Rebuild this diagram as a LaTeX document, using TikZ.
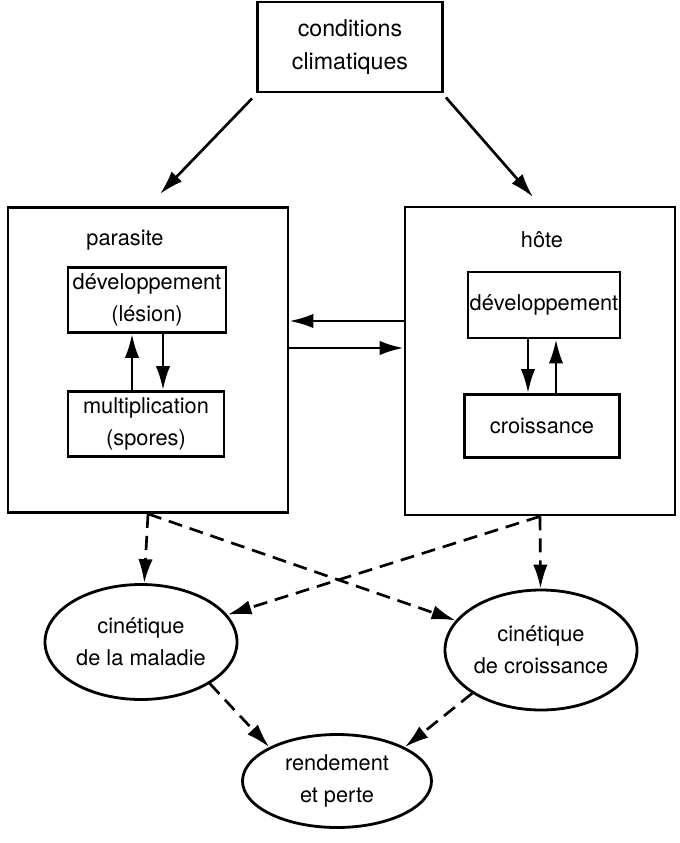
\documentclass[tikz,border=0pt]{standalone}
\usepackage{fontspec}
\setmainfont{TeX Gyre Heros}
\usetikzlibrary{shapes, arrows.meta, positioning}

\begin{document}
\begin{tikzpicture}[
          font=\fontsize{15.5}{23}\selectfont,
          box/.style={rectangle, draw, line width=2pt, inner sep=1pt, align=center},
          oval/.style={ellipse, draw, line width=2pt, inner sep=0pt, align=center},
          arrow/.style={-{Latex[length=6mm,width=3.6mm]}, line width=1.9pt},
          dasharrow/.style={arrow, dash pattern=on 3.5mm off 2mm}
        ]
          \useasboundingbox (0,0) rectangle (16.975,-21.075);
          \node (climat) [box, minimum width=4.625cm, minimum height=2.25cm, font=\fontsize{16.5}{24}\selectfont] at (8.75,-1.175) {conditions\\climatiques};
          \node (parasite) [box, minimum width=7cm, minimum height=7.625cm] at (3.7,-9.0) {};
          \node (hote) [box, minimum width=6.75cm, minimum height=7.7cm] at (13.5,-9.025) {};
          \node (parasitelabel) at (3.125,-6.0) {parasite};
          \node (hotelabel) at (13.55,-6.0) {hôte};
          \node (devp) [box, minimum width=3.95cm, minimum height=1.625cm] at (3.675,-7.5) {développement\\(lésion)};
          \node (multi) [box, minimum width=3.9cm, minimum height=1.625cm] at (3.65,-10.6) {multiplication\\(spores)};
          \node (devh) [box, minimum width=3.8cm, minimum height=1.65cm] at (13.6,-7.625) {développement};
          \node (crois) [box, minimum width=3.875cm, minimum height=1.575cm] at (13.55,-10.65) {croissance};
          \node (maladie) [oval, minimum width=4.8cm, minimum height=2.875cm] at (3.525,-16.05) {cinétique\\de la maladie};
          \node (cinecrois) [oval, minimum width=4.8cm, minimum height=3cm] at (13.525,-16.25) {cinétique\\de croissance};
          \node (rendement) [oval, minimum width=4.725cm, minimum height=2.325cm] at (8.425,-19.525) {rendement\\et perte};
          \coordinate (toparasite) at (4.0,-4.85);
          \coordinate (tohote) at (13.325,-4.925);
          % climat
          \draw[arrow] ([shift={(-0.1,-0.125)}]climat.south west) -- (toparasite);
          \draw[arrow] ([shift={(0.05,-0.1)}]climat.south east) -- (tohote);
          % echanges parasite / hote
          \draw[arrow] ([yshift=1cm]hote.west) -- ([yshift=1cm]hote.west -| parasite.east);
          \draw[arrow] ([yshift=0.3cm]parasite.east) -- ([yshift=0.3cm]parasite.east -| hote.west);
          \draw[arrow] ([xshift=-0.35cm]multi.north) -- ([xshift=-0.35cm]multi.north |- devp.south);
          \draw[arrow] ([xshift=0.4cm]devp.south) -- ([xshift=0.4cm]devp.south |- multi.north);
          \draw[arrow] ([xshift=-0.4cm]devh.south) -- ([xshift=-0.4cm]devh.south |- crois.north);
          \draw[arrow] ([xshift=0.35cm]crois.north) -- ([xshift=0.35cm]crois.north |- devh.south);
          % cinetiques
          \draw[dasharrow] (parasite.south) -- (maladie);
          \draw[dasharrow] (parasite.south) -- (cinecrois);
          \draw[dasharrow] (hote.south) -- (cinecrois);
          \draw[dasharrow] (hote.south) -- (maladie);
          \draw[dasharrow] (maladie.south east) -- (rendement.north west);
          \draw[dasharrow] (cinecrois.south west) -- (rendement.north east);
        \end{tikzpicture}
\end{document}
